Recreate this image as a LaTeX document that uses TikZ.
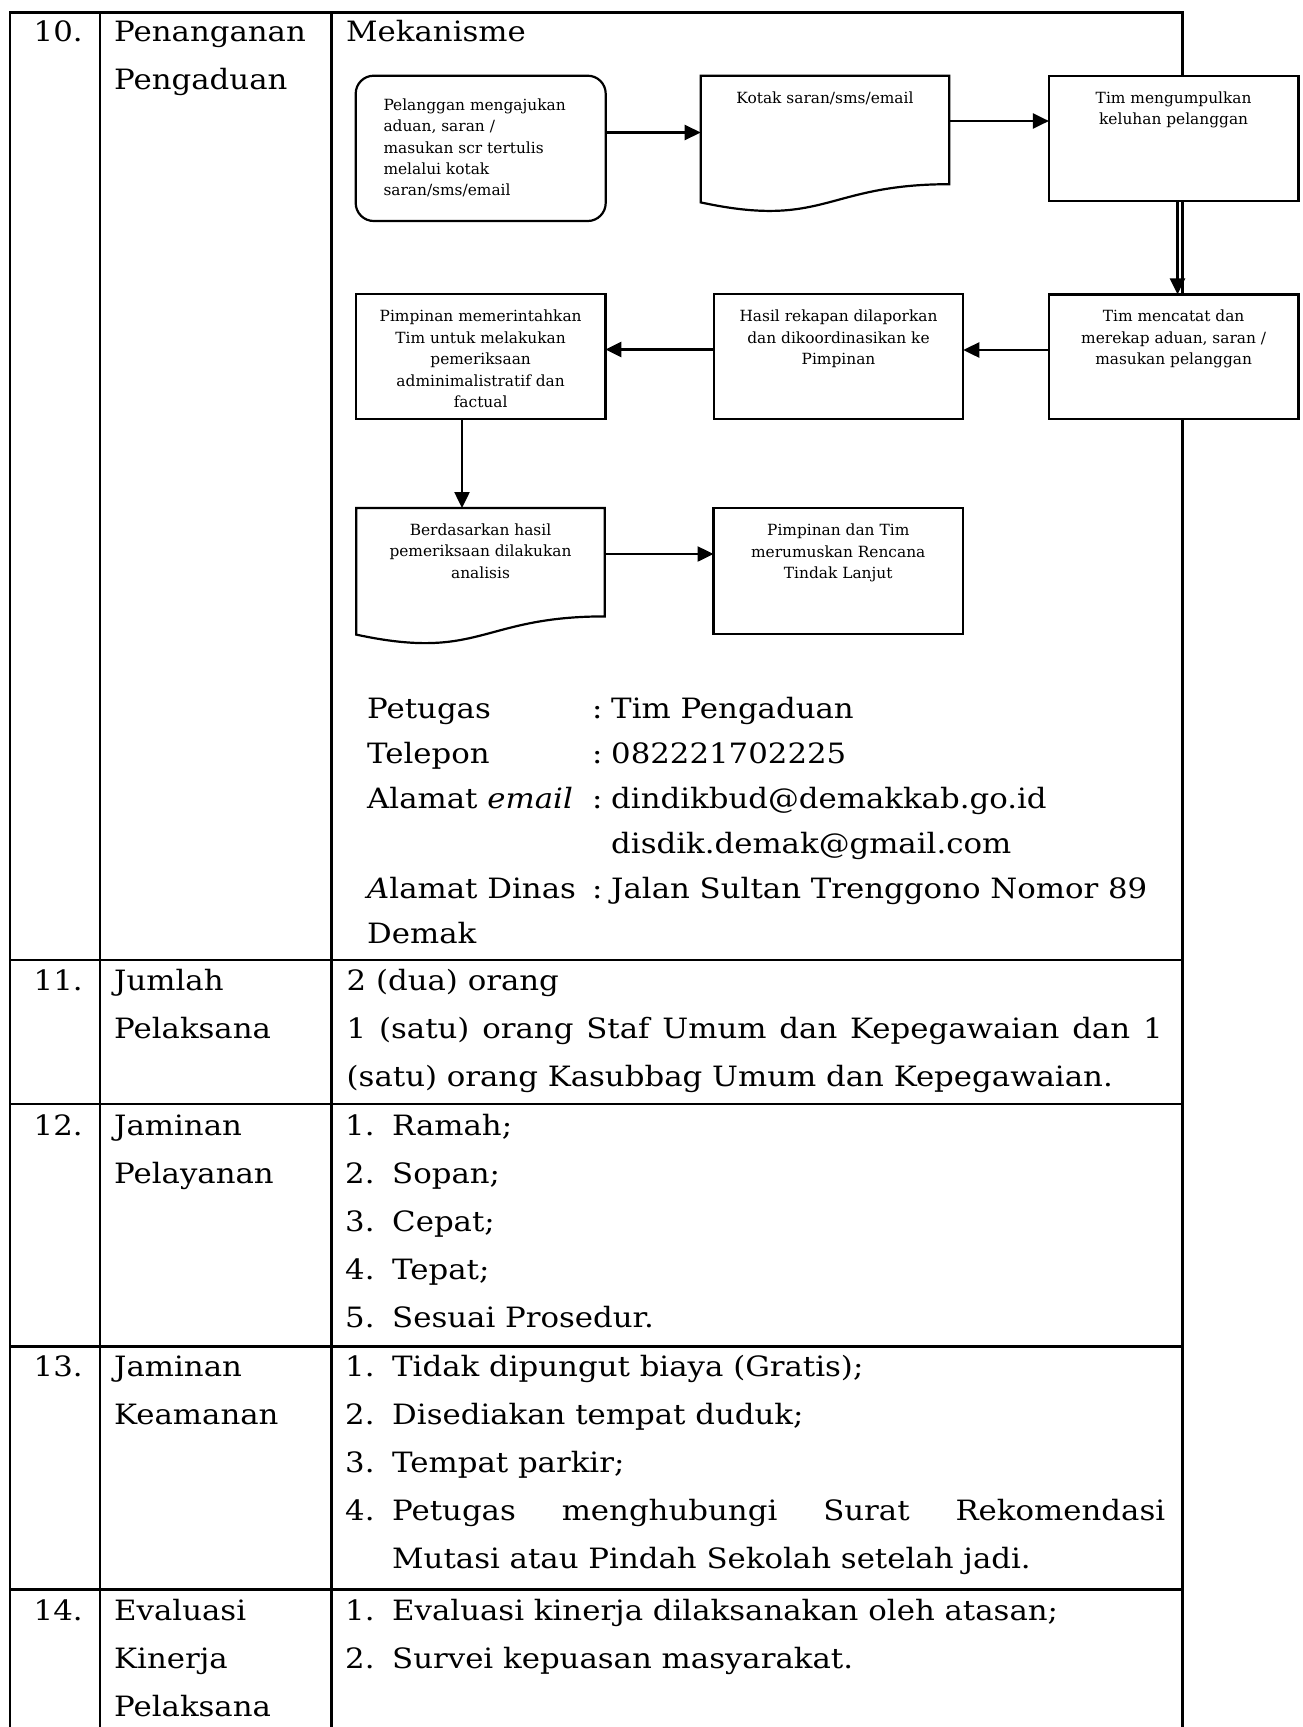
\documentclass[tikz,border=0pt]{standalone}
\usepackage{fontspec}
\setmainfont{DejaVu Serif}[FakeStretch=1.1]
\newfontfamily\boxfont{DejaVu Serif}
\usetikzlibrary{arrows.meta}
\newcommand\bst{\rule{0pt}{13pt}}
\newcommand\tst{\rule{0pt}{26pt}}
\newcommand\mydocshape[1]{%
  \draw[line width=2.2pt, fill=white, line join=miter] (#1.north west) -- (#1.north east) -- (#1.south east)
    .. controls (#1.south) and ([yshift=-45pt]#1.south) .. ([yshift=-18.2pt]#1.south west) -- cycle;}
\begin{document}
\begin{tikzpicture}[x=1pt,y=-1pt,
  box/.style={draw, line width=2.2pt, fill=white, minimum width=249.5pt, minimum height=124.5pt, inner sep=0pt, outer sep=0pt},
  rbox/.style={box, rounded corners=18pt, minimum width=250pt, minimum height=145.3pt},
  docbox/.style={inner sep=0pt, outer sep=0pt, minimum width=248.6pt, minimum height=108.4pt},
  btext/.style={anchor=north, inner sep=0pt, align=center, font=\boxfont\fontsize{15.4}{21.6}\selectfont},
  ltext/.style={anchor=north west, inner sep=0pt, align=left, font=\boxfont\fontsize{15.4}{21.4}\selectfont},
  ttext/.style={anchor=north west, inner sep=0pt, align=left, font=\fontsize{28}{48}\selectfont},
  ctext/.style={anchor=north west, inner sep=0pt, align=left, font=\fontsize{28}{45}\selectfont},
  arr/.style={line width=2.5pt, -{Triangle[length=16pt,width=15pt]}},
  tbl/.style={line width=2.6pt, line join=miter}]
\useasboundingbox (0,0) rectangle (1302,1727);
\fill[white] (0,0) rectangle (1302,1727);
% table grid
\draw[tbl] (10,1727) -- (10,12.3) -- (1182.3,12.3) -- (1182.3,1727);
\draw[tbl] (100,12.3) -- (100,1727);
\draw[tbl] (331.7,12.3) -- (331.7,1727);
\foreach \yy in {960,1104,1346.7,1589.3} \draw[tbl] (10,\yy) -- (1182.3,\yy);
% row 10 texts
\node[ttext] (n10) at (33.5,15.7) {\tst 10.};
\node[ttext] (t10) at (114,15.7) {\tst Penanganan\\Pengaduan};
\node[ttext] (m10) at (346,15.7) {\tst Mekanisme};
% flowchart boxes
\node[rbox] (pel) at (480.7,148.35) {};
\node[docbox] (kotak) at (825,130) {};
\mydocshape{kotak}
\node[box, minimum height=124.7pt] (timk) at (1173.65,138.35) {};
\node[box] (pimp) at (480.65,356.5) {};
\node[box] (hasil) at (838.5,356.6) {};
\node[box] (timc) at (1173.65,356.65) {};
\node[docbox] (berd) at (480.5,562.2) {};
\mydocshape{berd}
\node[box, minimum height=125.7pt] (pdt) at (838.25,571.15) {};
% flowchart texts
\node[ltext] (pelT) at ([xshift=27.6pt,yshift=-21.3pt]pel.north west) {\bst Pelanggan mengajukan\\aduan, saran /\\masukan scr tertulis\\melalui kotak\\saran/sms/email};
\node[btext] (kotakT) at ([yshift=-14pt]kotak.north) {\bst Kotak saran/sms/email};
\node[btext] (timkT) at ([yshift=-14pt]timk.north) {\bst Tim mengumpulkan\\keluhan pelanggan};
\node[btext] (pimpT) at ([yshift=-14pt]pimp.north) {\bst Pimpinan memerintahkan\\Tim untuk melakukan\\pemeriksaan\\adminimalistratif dan\\factual};
\node[btext] (hasilT) at ([yshift=-14pt]hasil.north) {\bst Hasil rekapan dilaporkan\\dan dikoordinasikan ke\\Pimpinan};
\node[btext] (timcT) at ([yshift=-14pt]timc.north) {\bst Tim mencatat dan\\merekap aduan, saran /\\masukan pelanggan};
\node[btext] (berdT) at ([yshift=-14pt]berd.north) {\bst Berdasarkan hasil\\pemeriksaan dilakukan\\analisis};
\node[btext] (pdtT) at ([yshift=-14pt]pdt.north) {\bst Pimpinan dan Tim\\merumuskan Rencana\\Tindak Lanjut};
% connectors
\draw[arr] (pel.east |- 0,132.5) -- (kotak.west |- 0,132.5);
\draw[arr] (kotak.east |- 0,121) -- (timk.west |- 0,121);
\draw[arr] (timk.south -| 1177.5,0) -- (timc.north -| 1177.5,0);
\draw[arr] (timc.west |- 0,350) -- (hasil.east |- 0,350);
\draw[arr] (hasil.west |- 0,349.5) -- (pimp.east |- 0,349.5);
\draw[arr] (pimp.south -| 462,0) -- (berd.north -| 462,0);
\draw[arr] (berd.east |- 0,554) -- (pdt.west |- 0,554);
% contact block
\node[ctext] (lab) at (367,692.3) {\tst Petugas\\Telepon\\Alamat \textit{email}\\\mbox{}\\\textit{A}lamat Dinas\\Demak};
\node[ctext] (col) at (592,692.3) {\tst :\\:\\:\\\mbox{}\\:};
\node[ctext] (val) at (611,692.3) {\tst Tim Pengaduan\\082221702225\\dindikbud@demakkab.go.id\\disdik.demak@gmail.com\\Jalan Sultan Trenggono Nomor 89};
% row 11
\node[ttext] (n11) at (33.5,964.7) {\tst 11.};
\node[ttext] (t11) at (114,964.7) {\tst Jumlah\\Pelaksana};
\node[ttext] (v11) at (346.5,964.7) {\tst 2 (dua) orang\\\makebox[816pt][s]{1 (satu) orang Staf Umum dan Kepegawaian dan 1}\\(satu) orang Kasubbag Umum dan Kepegawaian.};
% row 12
\node[ttext] (n12) at (33.5,1109) {\tst 12.};
\node[ttext] (t12) at (114,1109) {\tst Jaminan\\Pelayanan};
\node[ttext] (k12) at (345,1109) {\tst 1.\\2.\\3.\\4.\\5.};
\node[ttext] (i12) at (392,1109) {\tst Ramah;\\Sopan;\\Cepat;\\Tepat;\\Sesuai Prosedur.};
% row 13
\node[ttext] (n13) at (33.5,1350.7) {\tst 13.};
\node[ttext] (t13) at (114,1350.7) {\tst Jaminan\\Keamanan};
\node[ttext] (k13) at (345,1350.7) {\tst 1.\\2.\\3.\\4.};
\node[ttext] (i13) at (392,1350.7) {\tst Tidak dipungut biaya (Gratis);\\Disediakan tempat duduk;\\Tempat parkir;\\\makebox[773pt][s]{Petugas menghubungi Surat Rekomendasi}\\Mutasi atau Pindah Sekolah setelah jadi.};
% row 14
\node[ttext] (n14) at (33.5,1594) {\tst 14.};
\node[ttext] (t14) at (114,1594) {\tst Evaluasi\\Kinerja\\Pelaksana};
\node[ttext] (k14) at (345,1594) {\tst 1.\\2.};
\node[ttext] (i14) at (392,1594) {\tst Evaluasi kinerja dilaksanakan oleh atasan;\\Survei kepuasan masyarakat.};
\end{tikzpicture}
\end{document}
